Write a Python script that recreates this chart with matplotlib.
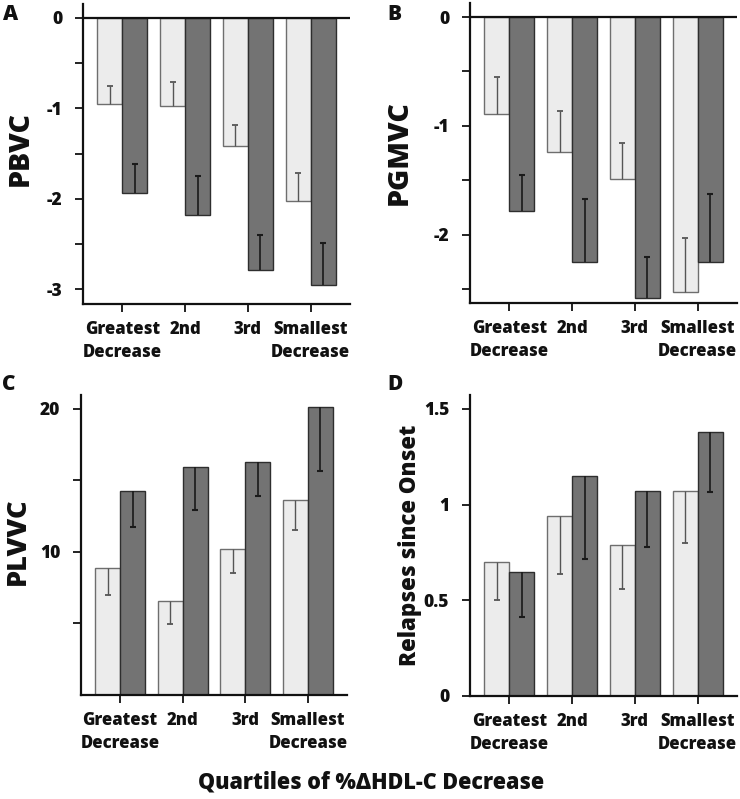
import matplotlib
matplotlib.use("Agg")
import matplotlib.pyplot as plt
import numpy as np
from matplotlib.ticker import FixedLocator

plt.rcParams['font.family'] = ['Open Sans', 'DejaVu Sans']
plt.rcParams['font.weight'] = 800
WT = 800

categories = ["Greatest\nDecrease", "2nd", "3rd", "Smallest\nDecrease"]

# Panel A: PBVC
pbvc_light = [-0.95, -0.98, -1.42, -2.02]
pbvc_light_err = [0.19, 0.27, 0.24, 0.31]
pbvc_dark = [-1.93, -2.18, -2.79, -2.95]
pbvc_dark_err = [0.31, 0.43, 0.39, 0.46]

# Panel B: PGMVC
pgmvc_light = [-0.89, -1.24, -1.49, -2.53]
pgmvc_light_err = [0.34, 0.38, 0.33, 0.50]
pgmvc_dark = [-1.78, -2.25, -2.58, -2.25]
pgmvc_dark_err = [0.33, 0.58, 0.37, 0.62]

# Panel C: PLVVC
plvvc_light = [8.9, 6.6, 10.2, 13.6]
plvvc_light_err = [1.9, 1.65, 1.7, 2.1]
plvvc_dark = [14.25, 15.95, 16.3, 20.1]
plvvc_dark_err = [2.5, 3.05, 2.4, 4.45]

# Panel D: Relapses since onset
rel_light = [0.70, 0.94, 0.79, 1.07]
rel_light_err = [0.20, 0.30, 0.23, 0.27]
rel_dark = [0.65, 1.15, 1.07, 1.38]
rel_dark_err = [0.235, 0.435, 0.29, 0.315]

LIGHT = "#ececec"
LIGHT_EDGE = "#6e6e6e"
DARK = "#737373"
DARK_EDGE = "#2e2e2e"
AXC = "#111111"

W, H = 740, 799
fig = plt.figure(figsize=(W / 100, H / 100), dpi=100)


def add_ax(x0, x1, ytop, ybot):
    return fig.add_axes([x0 / W, 1 - ybot / H, (x1 - x0) / W, (ybot - ytop) / H])


def draw(ax, light, lerr, dark, derr, ylim, major, minor, majlabels, ylabel,
         ylabel_x, ylabel_y, ylabel_size, zero_line):
    x = np.arange(len(categories))
    bw = 0.4
    ax.bar(x - bw / 2, light, bw, color=LIGHT, edgecolor=LIGHT_EDGE, linewidth=1.0, zorder=2)
    ax.bar(x + bw / 2, dark, bw, color=DARK, edgecolor=DARK_EDGE, linewidth=1.0, zorder=2)
    for xs, vals, errs, col, lw in ((x - bw / 2, light, lerr, "#555555", 1.0),
                                    (x + bw / 2, dark, derr, "#1a1a1a", 1.2)):
        vals = np.array(vals)
        errs = np.array(errs)
        # error bar drawn from the bar end toward zero
        ends = np.where(vals < 0, vals + errs, vals - errs)
        ax.vlines(xs, vals, ends, colors=col, linewidth=lw, zorder=3)
        ax.plot(xs, ends, linestyle='none', marker='_', markersize=5,
                markeredgewidth=lw + 0.3, color=col, zorder=3)
    ax.set_xlim(-0.625, 3.625)
    ax.set_ylim(*ylim)
    ax.set_xticks(x)
    ax.set_xticklabels(categories, fontsize=12, fontweight=WT, linespacing=1.45,
                       color=AXC)
    ax.yaxis.set_major_locator(FixedLocator(major))
    ax.set_yticklabels(majlabels, fontsize=12.5, fontweight=WT, color=AXC)
    ax.yaxis.set_minor_locator(FixedLocator(minor))
    ax.tick_params(axis='both', which='both', direction='out', length=6, width=1.3,
                   color=AXC)
    ax.tick_params(axis='y', which='major', pad=9)
    ax.tick_params(axis='x', which='major', pad=6)
    for s in ("top", "right"):
        ax.spines[s].set_visible(False)
    for s in ("left", "bottom"):
        ax.spines[s].set_linewidth(1.6)
        ax.spines[s].set_color(AXC)
    if zero_line:
        ax.axhline(0, color=AXC, linewidth=1.6, zorder=4)
    ax.set_ylabel(ylabel, fontsize=ylabel_size, fontweight=WT, color=AXC)
    ax.yaxis.set_label_coords(ylabel_x, ylabel_y)


axA = add_ax(83, 350, 4, 304)
draw(axA, pbvc_light, pbvc_light_err, pbvc_dark, pbvc_dark_err, (-3.16, 0.15),
     [0, -1, -2, -3], [-0.5, -1.5, -2.5], ["0", "-1", "-2", "-3"], "PBVC",
     -0.18, 0.52, 20.5, True)

axB = add_ax(470, 737, 3, 303)
draw(axB, pgmvc_light, pgmvc_light_err, pgmvc_dark, pgmvc_dark_err, (-2.63, 0.13),
     [0, -1, -2], [-0.5, -1.5, -2.5], ["0", "-1", "-2"], "PGMVC",
     -0.21, 0.50, 20.5, True)

axC = add_ax(81, 347, 395, 695)
draw(axC, plvvc_light, plvvc_light_err, plvvc_dark, plvvc_dark_err, (0, 20.97),
     [10, 20], [5, 15], ["10", "20"], "PLVVC",
     -0.19, 0.513, 19.5, False)

axD = add_ax(470, 737, 395, 696)
draw(axD, rel_light, rel_light_err, rel_dark, rel_dark_err, (0, 1.573),
     [0, 0.5, 1, 1.5], [], ["0", "0.5", "1", "1.5"], "Relapses since Onset",
     -0.18, 0.50, 16, False)

for lbl, (px, py) in zip("ABCD", [(3, 20), (387, 20), (2, 390), (387, 390)]):
    fig.text(px / W, 1 - py / H, lbl, fontsize=15, fontweight=WT, color=AXC,
             ha='left', va='baseline')

fig.text(371 / W, 1 - 789 / H, "Quartiles of %\u0394HDL-C Decrease", fontsize=15.5,
         fontweight=WT, color=AXC, ha='center', va='baseline')

fig.savefig("out.png", dpi=100)
